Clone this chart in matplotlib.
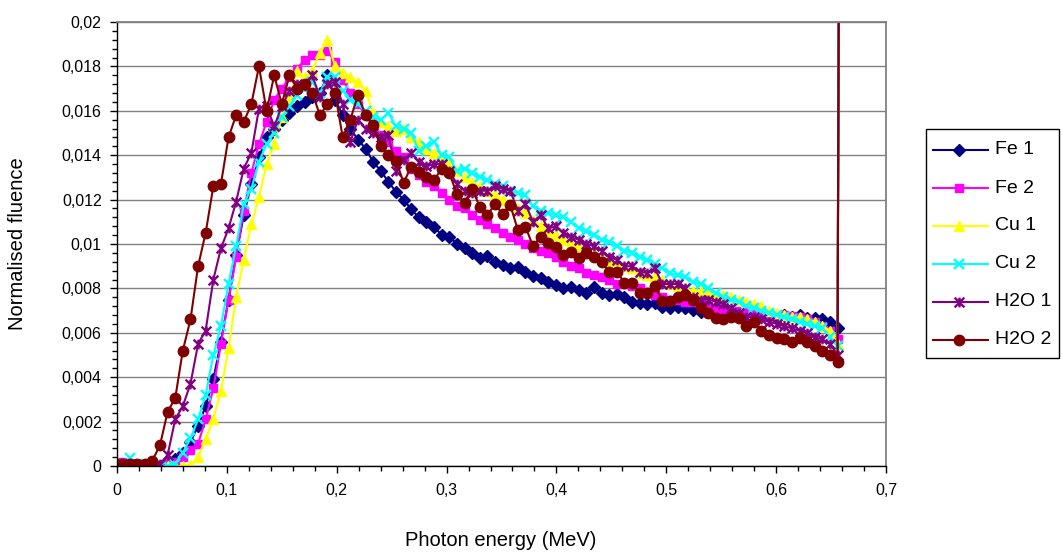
import numpy as np
import matplotlib
matplotlib.use('Agg')
import matplotlib.pyplot as plt
from matplotlib.path import Path
from matplotlib.lines import Line2D
from matplotlib.patches import Rectangle
from matplotlib.ticker import MultipleLocator, FuncFormatter

# Energy bins (MeV), regular grid of the spectrum
energy = np.round(0.0045 + 0.00693 * np.arange(95), 4)
spike_energy = 0.659
spike_value = 0.05   # photopeak, far above the axis range

fe1 = [0.0001, 0.00005, 0.0, 0.0, 0.0, 0.0, 0.0001, 0.0003, 0.0006, 0.0011,
       0.0018, 0.0027, 0.0039, 0.0056, 0.0075, 0.0095, 0.0113, 0.0127, 0.0139, 0.0148,
       0.0152, 0.0156, 0.0159, 0.0162, 0.0164, 0.0166, 0.0168, 0.0176, 0.0165, 0.0158,
       0.0152, 0.0147, 0.0143, 0.0137, 0.0133, 0.0128, 0.01235, 0.0120, 0.01156, 0.0112,
       0.0110, 0.01078, 0.0104, 0.01033, 0.0100, 0.0098, 0.00958, 0.00936, 0.00946, 0.0092,
       0.00905, 0.0089, 0.00898, 0.00875, 0.00856, 0.00845, 0.0083, 0.00815, 0.0080, 0.00805,
       0.00793, 0.00778, 0.00805, 0.00778, 0.0077, 0.00775, 0.00763, 0.0074, 0.00733, 0.0073,
       0.00733, 0.00718, 0.0071, 0.00718, 0.0071, 0.00703, 0.00695, 0.0070, 0.00692, 0.00698,
       0.0069, 0.00685, 0.0069, 0.00685, 0.0068, 0.00683, 0.00675, 0.0068, 0.00672, 0.0068,
       0.00668, 0.00665, 0.0066, 0.0065, 0.0062]

fe2 = [0.0002, 0.0001, 0.0001, 0.0001, 0.0, 0.0, 0.0001, 0.0002, 0.0004, 0.0007,
       0.0010, 0.0021, 0.0035, 0.0055, 0.0075, 0.0094, 0.0115, 0.0132, 0.0145, 0.0155,
       0.0165, 0.0170, 0.0175, 0.0179, 0.0183, 0.0185, 0.0185, 0.0187, 0.0182, 0.0174,
       0.0168, 0.0163, 0.0158, 0.0153, 0.0149, 0.0146, 0.0142, 0.0139, 0.0134, 0.0131,
       0.0128, 0.0126, 0.0123, 0.0120, 0.0117, 0.0116, 0.0113, 0.0111, 0.0109, 0.0107,
       0.0105, 0.0103, 0.0102, 0.0100, 0.0098, 0.0097, 0.0096, 0.0094, 0.0092, 0.0090,
       0.0089, 0.0087, 0.0086, 0.0085, 0.0084, 0.0082, 0.0082, 0.0081, 0.0080, 0.00785,
       0.0077, 0.0076, 0.0075, 0.0075, 0.0074, 0.0074, 0.0073, 0.0072, 0.0071, 0.00705,
       0.0070, 0.0070, 0.00695, 0.0069, 0.0069, 0.00685, 0.0068, 0.0068, 0.00675, 0.0067,
       0.0066, 0.0065, 0.0063, 0.0061, 0.0057]

cu1 = [0.0001, 0.00005, 0.0, 0.0, 0.0, 0.0, 0.0, 0.0, 0.0, 0.00005,
       0.0004, 0.0012, 0.0021, 0.0034, 0.0053, 0.0076, 0.0093, 0.0109, 0.0121, 0.0136,
       0.0145, 0.0157, 0.0166, 0.0178, 0.0175, 0.0178, 0.0186, 0.0192, 0.0180, 0.0177,
       0.0175, 0.0173, 0.0169, 0.0159, 0.0155, 0.0153, 0.0151, 0.0152, 0.0148, 0.0146,
       0.0143, 0.0141, 0.0139, 0.0137, 0.0133, 0.0130, 0.0128, 0.0126, 0.0124, 0.0122,
       0.0120, 0.0118, 0.0116, 0.0114, 0.0111, 0.0108, 0.0106, 0.0104, 0.0102, 0.0100,
       0.0099, 0.0097, 0.0096, 0.0094, 0.0092, 0.0091, 0.0090, 0.0089, 0.0087, 0.0086,
       0.0085, 0.0084, 0.0082, 0.0081, 0.0080, 0.0079, 0.0079, 0.0078, 0.0077, 0.0077,
       0.0076, 0.0075, 0.0074, 0.0073, 0.0072, 0.0070, 0.0069, 0.0068, 0.0067, 0.0067,
       0.0066, 0.0065, 0.0063, 0.0061, 0.0055]

cu2 = [0.0001, 0.00035, 0.0001, 0.0, 0.0, 0.0, 0.0, 0.0001, 0.0006, 0.00125,
       0.0021, 0.0032, 0.0050, 0.0063, 0.0082, 0.0099, 0.0118, 0.0125, 0.0137, 0.0145,
       0.0150, 0.0157, 0.0162, 0.0167, 0.0170, 0.0173, 0.0168, 0.0175, 0.0175, 0.0169,
       0.0165, 0.0163, 0.0160, 0.0157, 0.0156, 0.0159, 0.0153, 0.0152, 0.0150, 0.0142,
       0.0144, 0.0146, 0.0140, 0.0139, 0.0133, 0.0134, 0.0132, 0.0130, 0.0129, 0.0127,
       0.0126, 0.0124, 0.0123, 0.0122, 0.0117, 0.0115, 0.0114, 0.0113, 0.0112, 0.0110,
       0.0107, 0.0106, 0.0104, 0.0102, 0.0101, 0.0099, 0.0097, 0.0096, 0.0094, 0.0093,
       0.0091, 0.0089, 0.0087, 0.0086, 0.0085, 0.0083, 0.0082, 0.0080, 0.0078, 0.0076,
       0.0075, 0.0074, 0.0072, 0.0071, 0.0070, 0.0069, 0.0068, 0.0067, 0.0066, 0.0065,
       0.0064, 0.0063, 0.0062, 0.0058, 0.0054]

h2o1 = [0.0001, 0.0001, 0.0, 0.0, 0.0, 0.0001, 0.0005, 0.0021, 0.0027, 0.0037,
        0.0055, 0.0061, 0.0084, 0.0098, 0.0107, 0.0119, 0.0134, 0.0141, 0.0161, 0.0162,
        0.0153, 0.0162, 0.0169, 0.0172, 0.0171, 0.0176, 0.0166, 0.0172, 0.0173, 0.0163,
        0.0146, 0.0156, 0.0152, 0.0150, 0.0148, 0.0149, 0.0133, 0.0138, 0.0141, 0.0137,
        0.0135, 0.0136, 0.0136, 0.0133, 0.0127, 0.0124, 0.0123, 0.0124, 0.0124, 0.0126,
        0.0125, 0.0124, 0.0115, 0.0118, 0.0110, 0.0113, 0.0107, 0.0108, 0.0105, 0.0103,
        0.0102, 0.0100, 0.0099, 0.0097, 0.0094, 0.0093, 0.0090, 0.0090, 0.00875, 0.0087,
        0.0089, 0.0082, 0.0082, 0.0082, 0.0080, 0.0076, 0.0075, 0.0075, 0.0074, 0.0073,
        0.0071, 0.0069, 0.0067, 0.0067, 0.0066, 0.0065, 0.0064, 0.0063, 0.0062, 0.0061,
        0.0060, 0.0058, 0.0057, 0.0055, 0.0050]

h2o2 = [0.0001, 0.0001, 0.0001, 0.0001, 0.00024, 0.00095, 0.00245, 0.00305, 0.0052, 0.0066,
        0.0090, 0.0105, 0.0126, 0.0127, 0.0148, 0.0158, 0.0155, 0.0163, 0.0180, 0.0160,
        0.0176, 0.0163, 0.0176, 0.0170, 0.0172, 0.0168, 0.0158, 0.0163, 0.0168, 0.0148,
        0.0156, 0.0167, 0.0158, 0.01536, 0.0144, 0.0140, 0.01375, 0.01276, 0.01348, 0.01326,
        0.0130, 0.01288, 0.0134, 0.0132, 0.01225, 0.01186, 0.0125, 0.01167, 0.0113, 0.0118,
        0.01134, 0.01176, 0.01063, 0.01078, 0.0099, 0.01033, 0.01003, 0.00988, 0.0095, 0.00966,
        0.00936, 0.00958, 0.00943, 0.0092, 0.00875, 0.00875, 0.00826, 0.00826, 0.00778, 0.0078,
        0.0081, 0.00745, 0.00745, 0.00763, 0.0077, 0.00748, 0.0071, 0.0069, 0.00668, 0.0066,
        0.0067, 0.00665, 0.0063, 0.0065, 0.0061, 0.0059, 0.00578, 0.0057, 0.0056, 0.00575,
        0.0056, 0.0054, 0.0052, 0.0050, 0.0047]

labels = ['Fe 1', 'Fe 2', 'Cu 1', 'Cu 2', 'H2O 1', 'H2O 2']
series = [fe1, fe2, cu1, cu2, h2o1, h2o2]
colors = ['#000080', '#FF00FF', '#FFFF00', '#00FFFF', '#800080', '#800000']

star = Path([(-1, -1), (1, 1), (-1, 1), (1, -1), (0, -1), (0, 1)],
            [Path.MOVETO, Path.LINETO, Path.MOVETO, Path.LINETO, Path.MOVETO, Path.LINETO])
markers = [dict(marker='D', ms=6.3),
           dict(marker='s', ms=6.3),
           dict(marker='^', ms=7.8),
           dict(marker='x', ms=7, mew=1.7),
           dict(marker=star, ms=7, mew=1.7),
           dict(marker='o', ms=7.5)]

plt.rcParams['font.family'] = ['Liberation Sans', 'DejaVu Sans']

W, H = 1062, 558
fig = plt.figure(figsize=(W / 100, H / 100), dpi=100)
fig.patch.set_facecolor('white')
ax = fig.add_axes([117 / W, 1 - 466 / H, (886 - 117) / W, (466 - 22) / H])

for lab, vals, col, mk in zip(labels, series, colors, markers):
    x = np.append(energy, spike_energy)
    y = np.append(np.array(vals), spike_value)
    ax.plot(x, y, color=col, lw=1.5, mec=col, mfc=col, label=lab, **mk)

ax.set_xlim(0, 0.7)
ax.set_ylim(0, 0.02)

def fmt(v, pos):
    v = round(v, 6)
    if v == 0:
        return '0'
    return ('%g' % v).replace('.', ',')

ax.xaxis.set_major_locator(MultipleLocator(0.1))
ax.xaxis.set_minor_locator(MultipleLocator(0.02))
ax.yaxis.set_major_locator(MultipleLocator(0.002))
ax.yaxis.set_minor_locator(MultipleLocator(0.0004))
ax.xaxis.set_major_formatter(FuncFormatter(fmt))
ax.yaxis.set_major_formatter(FuncFormatter(fmt))
ax.tick_params(axis='both', which='major', direction='out', length=5, width=1,
               labelsize=11.5, colors='black')
ax.tick_params(axis='both', which='minor', direction='out', length=3.5, width=1)
ax.tick_params(axis='y', pad=6)
ax.tick_params(axis='x', pad=7)

ax.yaxis.grid(True, which='major', color='#808080', lw=1)
ax.set_axisbelow(True)
for s in ['top', 'right']:
    ax.spines[s].set_color('#808080')
    ax.spines[s].set_linewidth(1.3)
for s in ['left', 'bottom']:
    ax.spines[s].set_color('black')
    ax.spines[s].set_linewidth(1)

fig.text(501 / W, 1 - 541 / H, 'Photon energy (MeV)', ha='center', va='center', fontsize=14.5)
fig.text(18 / W, 1 - 244 / H, 'Normalised fluence', ha='center', va='center',
         rotation=90, fontsize=14.5)

# Legend drawn in figure pixel coordinates
def fx(px):
    return px / W

def fy(py):
    return 1 - py / H

fig.patches.append(Rectangle((fx(926), fy(358)), fx(1059) - fx(926), fy(129) - fy(358),
                             transform=fig.transFigure, facecolor='white',
                             edgecolor='black', lw=1))
row_y = [150, 188, 226, 264, 302, 340]
for lab, col, mk, ry in zip(labels, colors, markers, row_y):
    fig.add_artist(Line2D([fx(933), fx(988)], [fy(ry), fy(ry)], transform=fig.transFigure,
                          color=col, lw=1.5))
    fig.add_artist(Line2D([fx(959)], [fy(ry)], transform=fig.transFigure,
                          color=col, mec=col, mfc=col, ls='none', **mk))
    fig.text(fx(995), fy(ry), lab, ha='left', va='center', fontsize=14)

fig.savefig('out.png', dpi=100)
